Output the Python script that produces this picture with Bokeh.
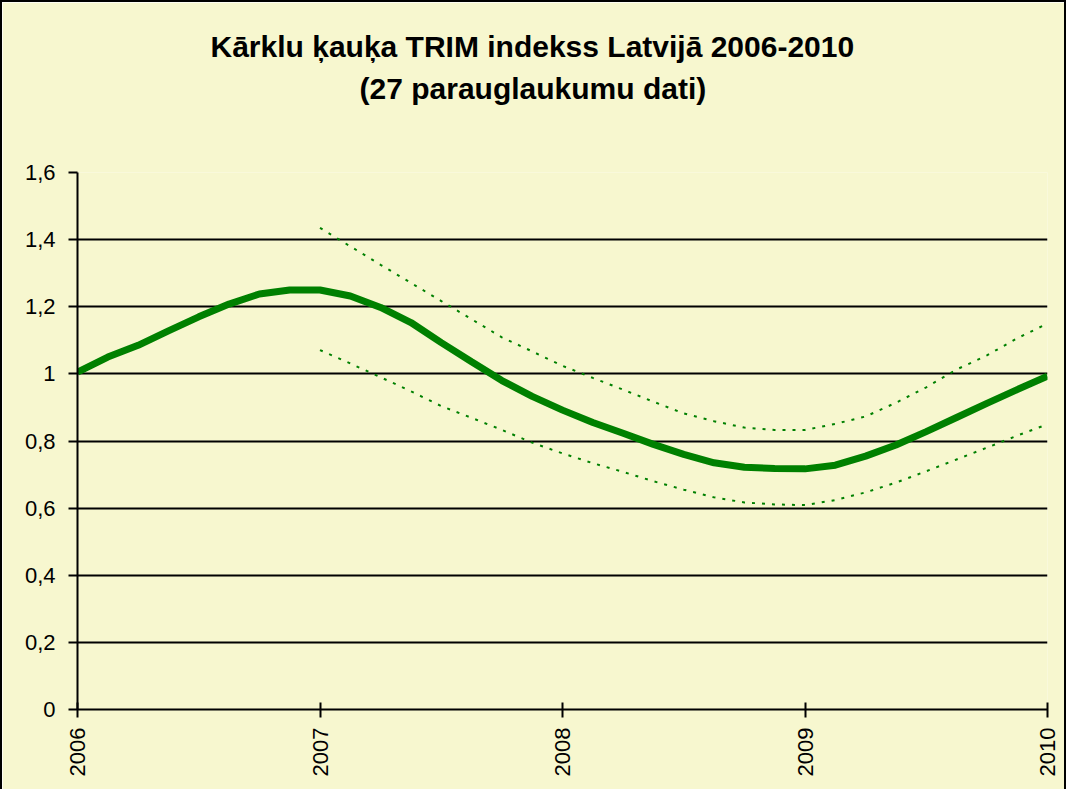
import math
from bokeh.plotting import figure
from bokeh.models import Range1d, FixedTicker, CustomJSTickFormatter, Title
from bokeh.embed import file_html
from bokeh.resources import INLINE

# ---- data ----
title_line1 = "Kārklu ķauķa TRIM indekss Latvijā 2006-2010"
title_line2 = "(27 parauglaukumu dati)"

years_main = [2006.0, 2006.125, 2006.25, 2006.375, 2006.5, 2006.625, 2006.75, 2006.875,
              2007.0, 2007.125, 2007.25, 2007.375, 2007.5, 2007.625, 2007.75, 2007.875,
              2008.0, 2008.125, 2008.25, 2008.375, 2008.5, 2008.625, 2008.75, 2008.875,
              2009.0, 2009.125, 2009.25, 2009.375, 2009.5, 2009.625, 2009.75, 2009.875,
              2010.0]
trim_index = [1.005, 1.05, 1.085, 1.128, 1.17, 1.208, 1.238, 1.25,
              1.25, 1.232, 1.198, 1.153, 1.093, 1.036, 0.98, 0.933,
              0.892, 0.855, 0.823, 0.79, 0.76, 0.735, 0.722, 0.718,
              0.717, 0.728, 0.755, 0.788, 0.828, 0.87, 0.912, 0.953,
              0.993]

years_ci = [2007.0, 2007.125, 2007.25, 2007.375, 2007.5, 2007.625, 2007.75, 2007.875,
            2008.0, 2008.125, 2008.25, 2008.375, 2008.5, 2008.625, 2008.75, 2008.875,
            2009.0, 2009.125, 2009.25, 2009.375, 2009.5, 2009.625, 2009.75, 2009.875,
            2010.0]
ci_upper = [1.435, 1.38, 1.325, 1.271, 1.217, 1.163, 1.109, 1.067,
            1.024, 0.988, 0.953, 0.917, 0.882, 0.859, 0.84, 0.833,
            0.833, 0.851, 0.873, 0.914, 0.96, 1.013, 1.055, 1.106,
            1.15]
ci_lower = [1.071, 1.031, 0.99, 0.948, 0.904, 0.869, 0.833, 0.795,
            0.763, 0.734, 0.708, 0.68, 0.655, 0.632, 0.617, 0.611,
            0.609, 0.624, 0.647, 0.676, 0.71, 0.745, 0.78, 0.816,
            0.85]

x_ticks = [2006, 2007, 2008, 2009, 2010]
y_ticks = [0, 0.2, 0.4, 0.6, 0.8, 1.0, 1.2, 1.4, 1.6]

BG = "#F7F7CF"
GREEN = "#008000"
FONT = "Liberation Sans"

p = figure(width=1066, height=789, output_backend="svg", toolbar_location=None,
           x_range=Range1d(2006, 2010), y_range=Range1d(0, 1.6),
           min_border_left=75, min_border_right=21, min_border_top=170,
           min_border_bottom=82)
p.styles = {"border-top": "2px solid black", "border-left": "2px solid black",
            "border-right": "2px solid black"}
p.background_fill_color = BG
p.border_fill_color = BG
p.outline_line_color = None

# main line and confidence bounds
p.line(years_main, trim_index, line_color=GREEN, line_width=7)
p.line(years_ci, ci_upper, line_color=GREEN, line_width=2, line_dash="3 7")
p.line(years_ci, ci_lower, line_color=GREEN, line_width=2, line_dash="3 7")

# grid
p.xgrid.grid_line_color = None
p.ygrid.grid_line_color = "black"
p.ygrid.grid_line_width = 2
p.ygrid.ticker = FixedTicker(ticks=y_ticks)

# axes
p.xaxis.ticker = FixedTicker(ticks=x_ticks)
p.yaxis.ticker = FixedTicker(ticks=y_ticks)
p.yaxis.formatter = CustomJSTickFormatter(
    code="var s = (Math.round(tick*10)/10).toString(); return s.replace('.', ',');")
p.xaxis.major_label_orientation = math.pi / 2
for ax in (p.xaxis[0], p.yaxis[0]):
    ax.axis_line_color = "black"
    ax.axis_line_width = 2
    ax.major_tick_line_color = "black"
    ax.major_tick_line_width = 2
    ax.minor_tick_line_color = None
    ax.major_label_text_font = FONT
    ax.major_label_text_font_size = "22px"
    ax.major_label_text_color = "black"
p.xaxis.major_tick_in = 7
p.xaxis.major_tick_out = 8
p.xaxis.major_label_standoff = 10
p.yaxis.major_tick_in = 0
p.yaxis.major_tick_out = 9
p.yaxis.major_label_standoff = 13

# title: spacer nearest the frame, then line 2, then line 1 (outermost)
p.add_layout(Title(text=" ", text_font_size="50px", align="center"), "above")
for txt, off, so in ((title_line2, 282, 0), (title_line1, 133, 14)):
    p.add_layout(Title(text=txt, align="left", offset=off,
                       text_font=FONT, text_font_size="30px", text_font_style="bold",
                       text_color="black", background_fill_color=None,
                       standoff=so), "above")

open("out.html", "w").write(file_html(p, INLINE))
